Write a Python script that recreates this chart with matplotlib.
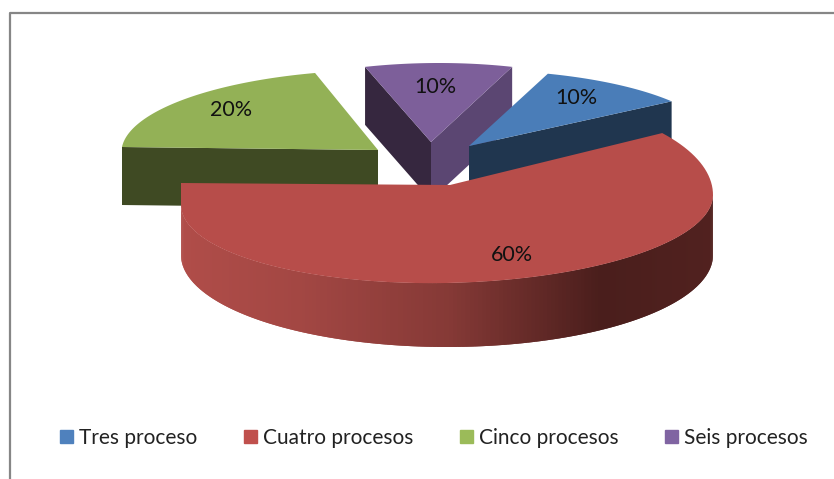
import numpy as np
import matplotlib
matplotlib.use("Agg")
import matplotlib.pyplot as plt
from matplotlib.patches import Patch

categories = ["Tres proceso", "Cuatro procesos", "Cinco procesos", "Seis procesos"]
shares = [10, 60, 20, 10]
share_labels = ["10%", "60%", "20%", "10%"]

legend_colors = ["#4F81BD", "#C0504D", "#9BBB59", "#8064A2"]
top_colors = ["#4A7DB8", "#B74D4A", "#93B156", "#7D5F9A"]

START_ANGLE = 72  # where the first slice starts, going clockwise

# slice geometry in pixels: tip, rim centre, radii (back, front), shear, tilt, depth
tips = [(469, 146), (450, 185), (378, 150), (431, 142)]
centers = [(469, 146), (447, 200), (378, 150), (431, 142)]
radii_x = [249, 266, 256, 238]
radii_back = [76, 107, 80, 79]
radii_front = [76, 83, 80, 79]
shear = [2, 0, 17, 8]
tilt = [0, -5, 3, 0]
depth = [60, 64, 58, 58]
label_pos = [(576, 98), (512, 255), (231, 110), (435, 87)]
RED_CORNER = (181, 183)


def rim(i, a):
    """Rim point(s) of slice i at angle a in degrees, in pixel coordinates."""
    t = np.radians(a)
    s = np.sin(t)
    ry = np.where(s > 0, radii_back[i], radii_front[i])
    x = centers[i][0] + radii_x[i] * np.cos(t) + shear[i] * s
    y = centers[i][1] - ry * s + tilt[i] * np.cos(t)
    return x, y


def side_face(ax, p, q, d, color):
    ax.fill([p[0], q[0], q[0], p[0]], [p[1], q[1], q[1] + d, p[1] + d],
            color=color, lw=0)


def draw_top(ax, i, a0, a1, extra=None):
    aa = np.linspace(a0, a1, 120)
    x, y = rim(i, aa)
    px, py = np.r_[tips[i][0], x], np.r_[tips[i][1], y]
    if extra is not None:
        px, py = np.r_[px, extra[0]], np.r_[py, extra[1]]
    ax.fill(px, py, color=top_colors[i], lw=0)


def draw_red_side(ax, i, a0, a1):
    # shaded outer wall, light on the left and darkest right of centre
    aa = np.linspace(a0, a1, 200)
    xs, ys = rim(i, aa)
    t = np.radians(aa)
    # wall looks shorter at the sides than at the front
    d = depth[i] - 9 + 5 * np.cos(t) - 9 * (1 - np.abs(np.sin(t))) + 9 - 0 * t
    d = depth[i] - 9 + 5 * np.cos(t) + 9 * np.abs(np.sin(t))
    # painted left to right, each strip overlapping the next so no seams show
    for k in range(len(aa) - 2):
        mx = (xs[k] + xs[k + 1]) / 2
        f = np.interp(mx, [182, 300, 450, 600, 713], [0.0, 0.13, 0.42, 1.0, 0.93])
        c0, c1 = np.array([176, 77, 73]), np.array([74, 30, 28])
        col = (c0 + (c1 - c0) * f) / 255
        ax.fill([xs[k], xs[k + 2], xs[k + 2], xs[k]],
                [ys[k], ys[k + 2], ys[k + 2] + d[k + 2], ys[k] + d[k]],
                color=col, lw=0)


fig = plt.figure(figsize=(8.34, 4.79), dpi=100)
ax = fig.add_axes([0, 0, 1, 1])
ax.set_xlim(0, 834)
ax.set_ylim(479, 0)
ax.axis("off")

# chart frame, open at right and bottom
ax.plot([10.5, 10.5, 834], [479, 12.5, 12.5], color="#868686", lw=1.6)

ang = np.cumsum([0] + shares) * 3.6
a_start = START_ANGLE - ang[:-1]
a_end = START_ANGLE - ang[1:]

# green, then purple, then blue, red on top of them all
gi, pi, bi, ri = 2, 3, 0, 1

side_face(ax, rim(gi, a_start[gi]), tips[gi], depth[gi], "#3F4A23")
draw_top(ax, gi, a_start[gi], a_end[gi])

side_face(ax, rim(pi, a_start[pi]), tips[pi], depth[pi], "#36273F")
side_face(ax, tips[pi], rim(pi, a_end[pi]), depth[pi], "#5B4672")
draw_top(ax, pi, a_start[pi], a_end[pi])

side_face(ax, tips[bi], rim(bi, a_end[bi]), depth[bi], "#20364F")
draw_top(ax, bi, a_start[bi], a_end[bi])

draw_red_side(ax, ri, a_end[ri], 0)
draw_top(ax, ri, a_start[ri], a_end[ri], extra=RED_CORNER)

for lab, (x, y) in zip(share_labels, label_pos):
    ax.text(x, y, lab, ha="center", va="center", fontsize=15.5, family="Lato", color="#111111")

handles = [Patch(color=c, label=n) for c, n in zip(legend_colors, categories)]
fig.legend(handles=handles, ncol=4, loc="center", bbox_to_anchor=(434 / 834, 1 - 438 / 479),
           frameon=False, prop={"family": "Lato", "size": 15}, labelcolor="#222222",
           handlelength=0.6, handleheight=0.6, handletextpad=0.3, columnspacing=2.25)

fig.savefig("out.png", dpi=100)
